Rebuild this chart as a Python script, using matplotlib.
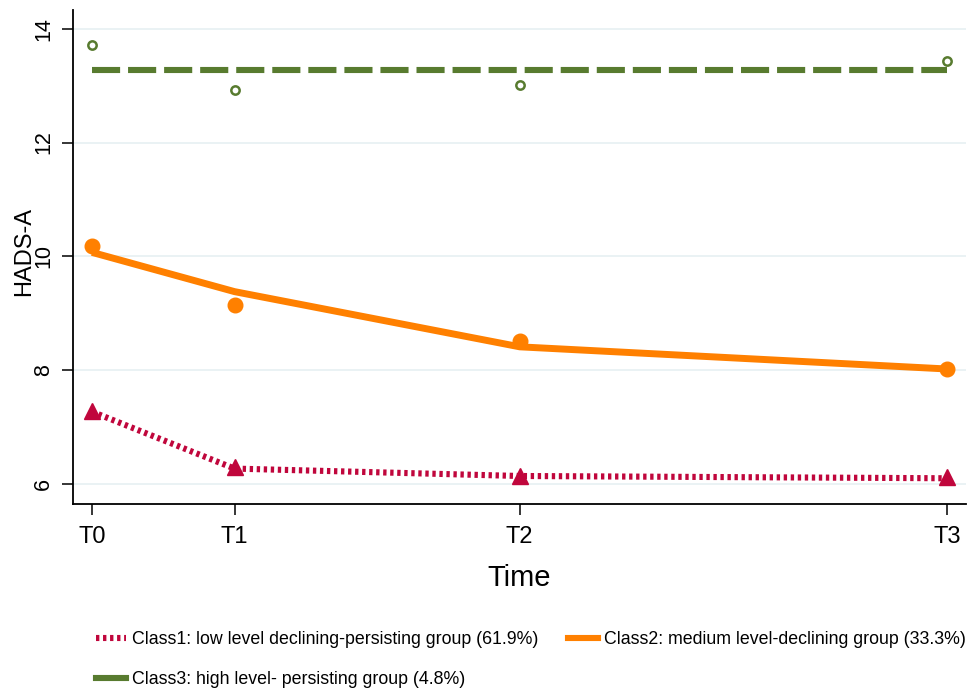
import matplotlib.pyplot as plt
from matplotlib.lines import Line2D

plt.rcParams['font.family'] = ['Liberation Sans', 'DejaVu Sans']

# measurement occasions (months from baseline) and their labels
time = [0, 1, 3, 6]
time_labels = ['T0', 'T1', 'T2', 'T3']

# observed class means
obs1 = [7.29, 6.30, 6.14, 6.12]
obs2 = [10.19, 9.15, 8.52, 8.02]
obs3 = [13.71, 12.92, 13.02, 13.43]

# fitted trajectories
fit1 = [7.27, 6.27, 6.14, 6.10]
fit2 = [10.07, 9.38, 8.41, 8.02]
fit3 = [13.27, 13.27, 13.27, 13.27]

labels = ['Class1: low level declining-persisting group (61.9%)',
          'Class2: medium level-declining group (33.3%)',
          'Class3: high level- persisting group (4.8%)']

red = '#c0063c'
orange = '#ff8000'
green = '#587b2f'

fig = plt.figure(figsize=(9.72, 6.92), dpi=100)
ax = fig.add_axes([0.0751, 0.2717, 0.9187, 0.7139])

ax.plot(time, obs1, linestyle='none', marker='^', markersize=11, color=red, zorder=3)
ax.plot(time, obs2, linestyle='none', marker='o', markersize=10.5, color=orange, zorder=3)
ax.plot(time, obs3, linestyle='none', marker='o', markersize=6, markerfacecolor='white',
        markeredgecolor=green, markeredgewidth=1.8, zorder=3)

ax.plot(time, fit1, color=red, lw=4.4, dashes=(0.55, 0.6), dash_capstyle='butt', zorder=4)
ax.plot(time, fit2, color=orange, lw=5.0, solid_capstyle='butt', zorder=4)
ax.plot(time, fit3, color=green, lw=4.4, dashes=(4.6, 1.3), dash_capstyle='butt', zorder=4)

ax.set_xlim(-0.133, 6.13)
ax.set_ylim(5.648, 14.33)
ax.set_xticks(time)
ax.set_xticklabels(time_labels)
ax.set_yticks([6, 8, 10, 12, 14])

ax.grid(axis='y', color='#e8f1f3', lw=1.3)
ax.set_axisbelow(True)
for s in ['top', 'right']:
    ax.spines[s].set_visible(False)
for s in ['left', 'bottom']:
    ax.spines[s].set_linewidth(1.3)

ax.tick_params(axis='both', length=8, width=1.1)
ax.tick_params(axis='x', pad=7.5, labelsize=17)
ax.tick_params(axis='y', pad=5.5, labelsize=15.5, labelrotation=90)
for lab in ax.get_yticklabels():
    lab.set_va('center')

ax.set_xlabel('Time', fontsize=21, labelpad=12)
ax.set_ylabel('HADS-A', fontsize=17)
ax.yaxis.set_label_coords(-0.042, 0.512)

handles = [Line2D([], [], color=red, lw=4.4, dashes=(0.55, 0.6), dash_capstyle='butt'),
           Line2D([], [], color=green, lw=4.4),
           Line2D([], [], color=orange, lw=4.4)]
fig.legend(handles, [labels[0], labels[2], labels[1]], ncol=2, loc='upper left',
           bbox_to_anchor=(0.0988, 0.088), frameon=False, fontsize=12.8,
           handlelength=1.7, handletextpad=0.34, columnspacing=1.63,
           labelspacing=1.3, borderpad=0, borderaxespad=0)

fig.savefig('out.png', dpi=100)
